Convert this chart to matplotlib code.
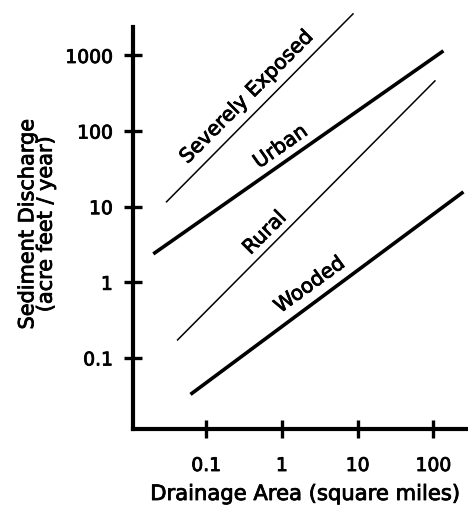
import numpy as np
import matplotlib.pyplot as plt
import matplotlib.patheffects as pe

plt.rcParams['font.family'] = ['DejaVu Sans']

# line end points (square miles, acre feet / year)
severe_area = [0.030, 8.7]
severe_sed = [11.6, 3550]
urban_area = [0.021, 130]
urban_sed = [2.45, 1116]
rural_area = [0.042, 105]
rural_sed = [0.173, 461]
wooded_area = [0.065, 239]
wooded_sed = [0.034, 15.2]

x_ticks = [0.1, 1, 10, 100]
x_tick_labels = ['0.1', '1', '10', '100']
y_ticks = [0.1, 1, 10, 100, 1000]
y_tick_labels = ['0.1', '1', '10', '100', '1000']

# scanned original has slightly heavy lettering
heavy = [pe.withStroke(linewidth=0.6, foreground='black')]

fig = plt.figure(figsize=(4.68, 5.07), dpi=100)
ax = fig.add_axes([0.284, 0.154, 0.716, 0.793])

thin = 1.1
thick = 2.6
ax.plot(severe_area, severe_sed, color='black', lw=thin, clip_on=False)
ax.plot(urban_area, urban_sed, color='black', lw=thick, clip_on=False)
ax.plot(rural_area, rural_sed, color='black', lw=thin, clip_on=False)
ax.plot(wooded_area, wooded_sed, color='black', lw=thick, clip_on=False)

ax.set_xscale('log')
ax.set_yscale('log')
ax.set_xlim(0.0108, 287)
ax.set_ylim(0.0115, 2390)

ax.set_xticks(x_ticks)
ax.set_xticklabels(x_tick_labels)
ax.set_yticks(y_ticks)
ax.set_yticklabels(y_tick_labels)
ax.minorticks_off()
ax.tick_params(direction='inout', length=13, width=2.4, labelsize=13.5)
ax.tick_params(axis='x', pad=13)
ax.tick_params(axis='y', pad=8)
for t in ax.get_xticklabels() + ax.get_yticklabels():
    t.set_path_effects(heavy)

for s in ['top', 'right']:
    ax.spines[s].set_visible(False)
for s in ['left', 'bottom']:
    ax.spines[s].set_linewidth(3)

lab = dict(fontsize=14.5, ha='center', va='center', rotation_mode='anchor',
           path_effects=heavy)
ax.text(0.346, 283, 'Severely Exposed', rotation=45, **lab)
ax.text(0.97, 62, 'Urban', rotation=35, **lab)
ax.text(0.598, 4.5, 'Rural', rotation=45, **lab)
ax.text(2.35, 0.92, 'Wooded', rotation=36, **lab)

fig.text(0.652, 0.0138, 'Drainage Area (square miles)', fontsize=15.2,
         ha='center', va='baseline', path_effects=heavy)
fig.text(0.078, 0.558, 'Sediment Discharge\n(acre feet / year)', fontsize=15,
         rotation=90, ha='center', va='center', multialignment='center',
         linespacing=0.9, path_effects=heavy)

fig.savefig('out.png', dpi=100)
